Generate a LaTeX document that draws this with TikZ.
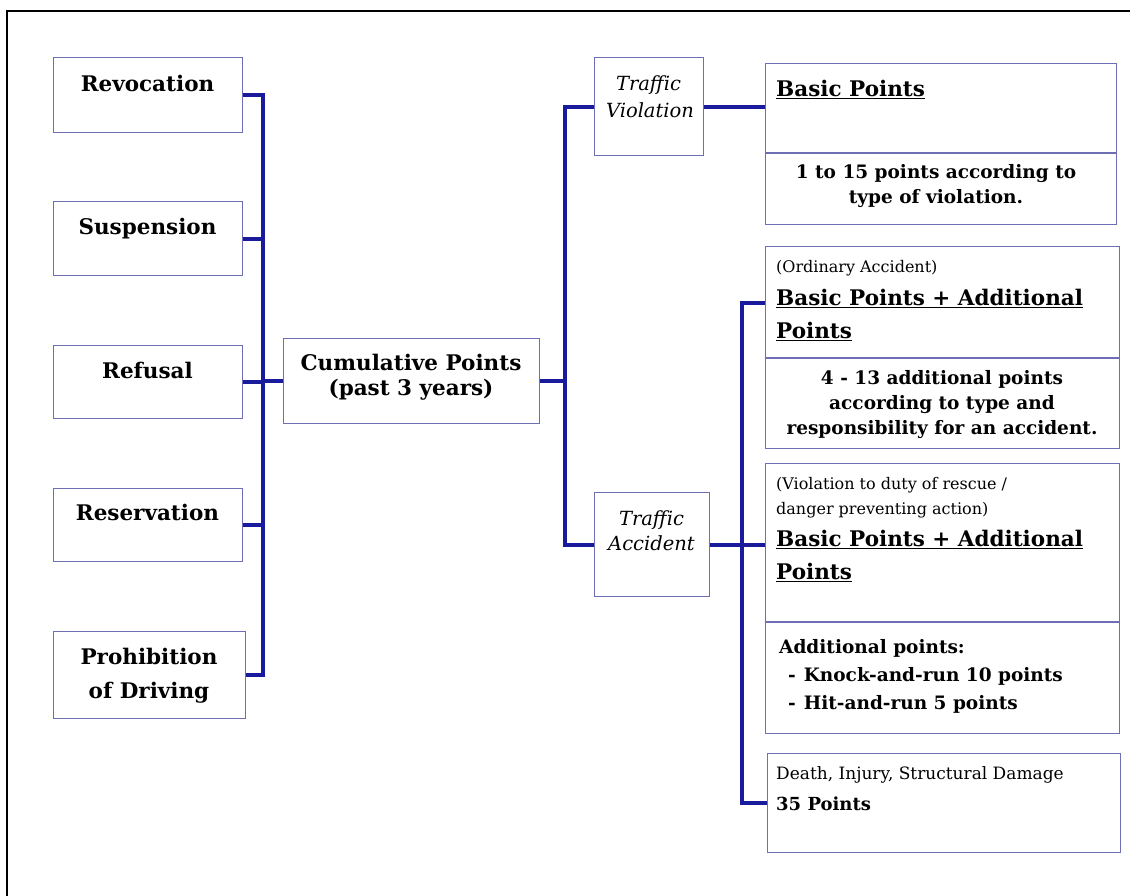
\documentclass[tikz,border=0pt]{standalone}
\usepackage{fontspec}
\setmainfont{DejaVu Serif}
\definecolor{boxblue}{HTML}{6E6EB4}
\definecolor{connblue}{HTML}{1A1A9C}
\begin{document}
\begin{tikzpicture}[x=1pt,y=-1pt,
  box/.style={draw=boxblue, line width=1.4pt, inner sep=0pt, anchor=north west},
  divider/.style={draw=boxblue, line width=1.4pt},
  conn/.style={draw=connblue, line width=3.8pt},
  big/.style={font=\bfseries\fontsize{21.5}{24}\selectfont, inner sep=0pt, anchor=base},
  ital/.style={font=\itshape\fontsize{19.5}{22}\selectfont, inner sep=0pt, anchor=base},
  head/.style={font=\bfseries\fontsize{21.5}{24}\selectfont, inner sep=0pt, anchor=base west},
  small/.style={font=\fontsize{16}{18}\selectfont, inner sep=0pt, anchor=base west},
  body/.style={font=\bfseries\fontsize{18.5}{21}\selectfont, inner sep=0pt, anchor=base},
  bodyl/.style={font=\bfseries\fontsize{18.5}{21}\selectfont, inner sep=0pt, anchor=base west}]
\useasboundingbox (0,0) rectangle (1130,895);
\draw[line width=2pt] (7,900) -- (7,11) -- (1140,11);

% left boxes
\node[box, minimum width=189pt, minimum height=75pt] (rev) at (53,57) {};
\node[big] (revt) at (147.5,91) {Revocation};
\node[box, minimum width=189pt, minimum height=74pt] (sus) at (53,201) {};
\node[big] (sust) at (147.5,234) {Suspension};
\node[box, minimum width=189pt, minimum height=73pt] (ref) at (53,345) {};
\node[big] (reft) at (147.5,378) {Refusal};
\node[box, minimum width=189pt, minimum height=73pt] (res) at (53,488) {};
\node[big] (rest) at (147.5,520) {Reservation};
\node[box, minimum width=192pt, minimum height=87pt] (pro) at (53,631) {};
\node[big] (prot1) at (149,664) {Prohibition};
\node[big] (prot2) at (149,698) {of Driving};

% centre
\node[box, minimum width=256pt, minimum height=85pt] (cum) at (283,338) {};
\node[big] (cumt1) at (411,370) {Cumulative Points};
\node[big] (cumt2) at (411,395) {(past 3 years)};

% traffic violation / accident
\node[box, minimum width=109pt, minimum height=98pt] (tv) at (594,57) {};
\node[ital] (tvt1) at (648.5,90) {Traffic};
\node[ital] (tvt2) at (650,117) {Violation};
\node[box, minimum width=115pt, minimum height=104pt] (ta) at (594,492) {};
\node[ital] (tat1) at (651.5,525) {Traffic};
\node[ital] (tat2) at (651.5,550) {Accident};

% right boxes
\node[box, minimum width=351pt, minimum height=161pt] (bas) at (765,63) {};
\draw[divider] (bas.west |- 0,153) -- (bas.east |- 0,153);
\node[head] (bast) at (776,96) {\underline{Basic Points}};
\node[body] (basb1) at (936,178) {1 to 15 points according to};
\node[body] (basb2) at (936,203) {type of violation.};

\node[box, minimum width=354pt, minimum height=202pt] (ord) at (765,246) {};
\draw[divider] (ord.west |- 0,358) -- (ord.east |- 0,358);
\node[small] (ordt0) at (776,272) {(Ordinary Accident)};
\node[head] (ordt1) at (776,305) {\underline{Basic Points + Additional}};
\node[head] (ordt2) at (776,338) {\underline{Points}};
\node[body] (ordb1) at (942,384) {4 - 13 additional points};
\node[body] (ordb2) at (942,409) {according to type and};
\node[body] (ordb3) at (942,434) {responsibility for an accident.};

\node[box, minimum width=354pt, minimum height=270pt] (vio) at (765,463) {};
\draw[divider] (vio.west |- 0,622) -- (vio.east |- 0,622);
\node[small] (viot0) at (776,489) {(Violation to duty of rescue /};
\node[small] (viot1) at (776,514) {danger preventing action)};
\node[head] (viot2) at (776,546) {\underline{Basic Points + Additional}};
\node[head] (viot3) at (776,579) {\underline{Points}};
\node[bodyl] (viob1) at (779,653) {Additional points:};
\node[bodyl] (viob2) at (788,681) {-\hspace{8pt}Knock-and-run 10 points};
\node[bodyl] (viob3) at (788,709) {-\hspace{8pt}Hit-and-run 5 points};

\node[box, minimum width=353pt, minimum height=99pt] (dea) at (767,753) {};
\node[small, font=\fontsize{17}{19}\selectfont] (deat0) at (776,779) {Death, Injury, Structural Damage};
\node[head, font=\bfseries\fontsize{18}{21}\selectfont] (deat1) at (776,810) {35 Points};

% connectors
\coordinate (busL) at (263,0);
\coordinate (busM) at (565,0);
\coordinate (busR) at (742,0);
\draw[conn] (rev.east) -- (rev.east -| busL) -- (pro.east -| busL) -- (pro.east);
\foreach \n in {sus,ref,res} \draw[conn] (\n.east) -- (\n.east -| busL);
\draw[conn] (cum.west) -- (cum.west -| busL);
\draw[conn] (cum.east) -- (cum.east -| busM);
\draw[conn] (tv.west) -- (tv.west -| busM) -- (ta.west -| busM) -- (ta.west);
\draw[conn] (tv.east) -- (tv.east -| bas.west);
\coordinate (ordin) at (ord.west |- 0,303);
\draw[conn] (ordin) -- (ordin -| busR) -- (dea.west -| busR) -- (dea.west);
\draw[conn] (ta.east) -- (ta.east -| vio.west);
\end{tikzpicture}
\end{document}
